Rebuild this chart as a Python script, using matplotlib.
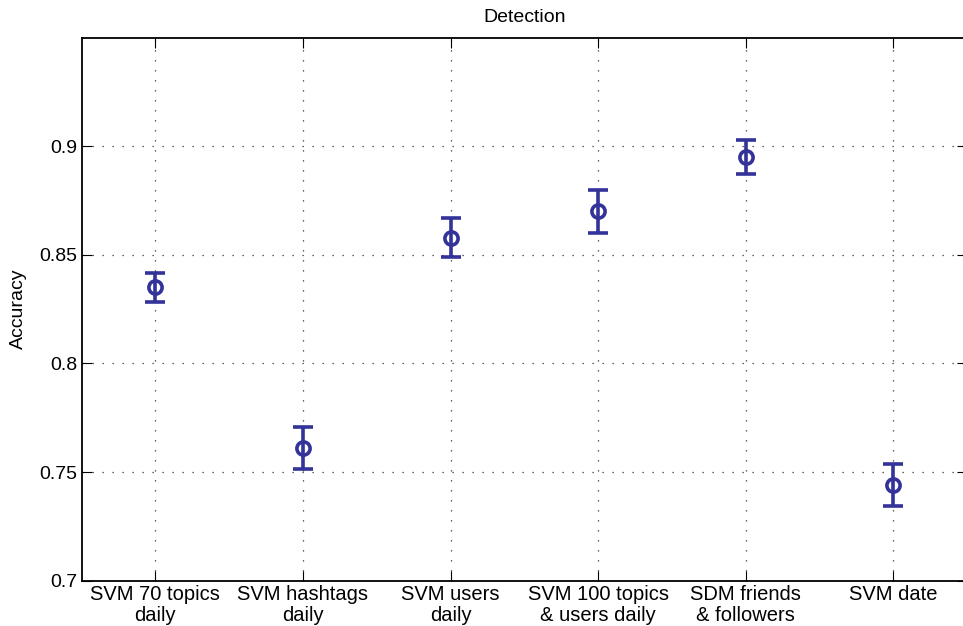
import matplotlib
matplotlib.use("Agg")
import matplotlib.pyplot as plt

# data
methods = ["SVM 70 topics\ndaily", "SVM hashtags\ndaily", "SVM users\ndaily",
           "SVM 100 topics\n& users daily", "SDM friends\n& followers", "SVM date"]
accuracy = [0.835, 0.761, 0.858, 0.870, 0.895, 0.744]
acc_err = [0.0066, 0.0097, 0.0091, 0.0100, 0.0077, 0.0096]
y_ticks = [0.7, 0.75, 0.8, 0.85, 0.9]
y_tick_labels = ["0.7", "0.75", "0.8", "0.85", "0.9"]

plt.rcParams['font.family'] = ['Liberation Sans', 'DejaVu Sans']

fig = plt.figure(figsize=(9.63, 6.26), dpi=100)
ax = fig.add_axes([0.0848, 0.0724, 0.9193, 0.8674])

x = list(range(1, len(methods) + 1))
col = '#333399'
ax.errorbar(x, accuracy, yerr=acc_err, fmt='o', color=col, ecolor=col,
            markersize=9.5, markerfacecolor='none', markeredgewidth=2.6,
            elinewidth=2.6, capsize=7, capthick=2.6, zorder=3)

ax.set_xlim(0.5, 6.5)
ax.set_ylim(0.7, 0.95)
ax.set_xticks(x)
ax.set_xticklabels(methods, fontsize=14.5, linespacing=1.15)
ax.set_yticks(y_ticks)
ax.set_yticklabels(y_tick_labels, fontsize=14)

ax.tick_params(direction='in', top=True, right=True, length=7, width=0.8,
               color='black', pad=3)
ax.grid(True, linestyle=(0, (1, 7)), color='#333333', linewidth=0.9)
for s in ax.spines.values():
    s.set_linewidth(1.3)

ax.set_title("Detection", fontsize=14, pad=11)
ax.set_ylabel("Accuracy", fontsize=14, labelpad=9)

fig.savefig("out.png", dpi=100)
